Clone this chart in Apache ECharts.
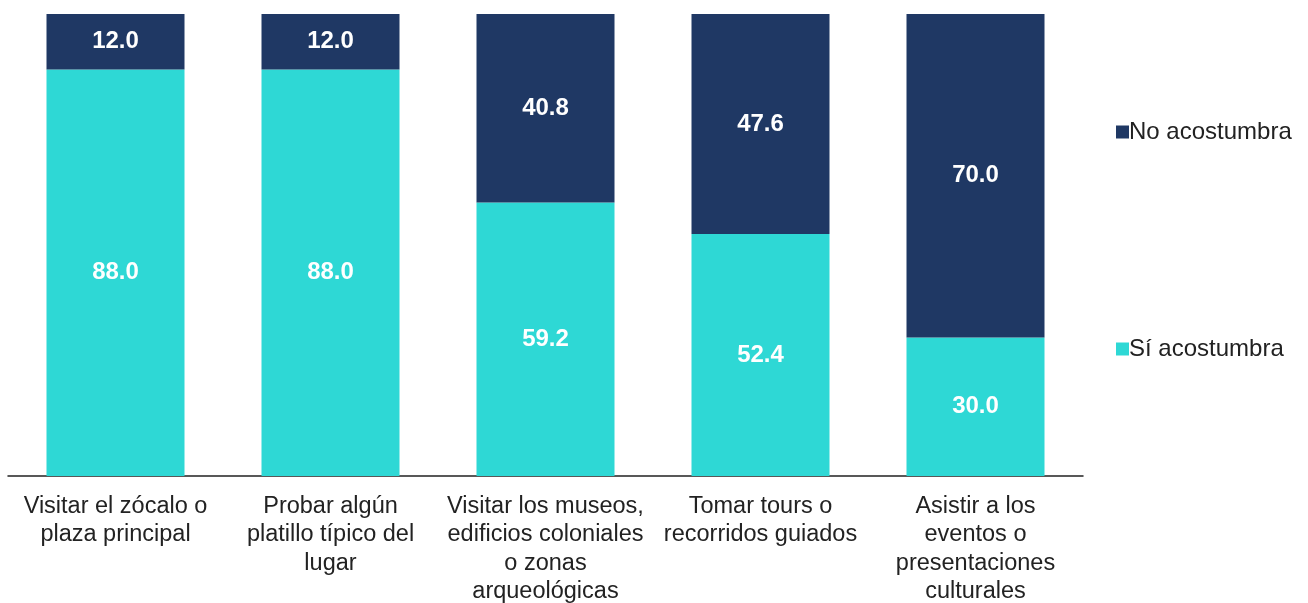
<!DOCTYPE html>
<html>
<head>
<meta charset="utf-8">
<script src="https://cdn.jsdelivr.net/npm/echarts@6/dist/echarts.min.js"></script>
</head>
<body style="margin:0;background:#fff">
<div id="chart" style="width:1308px;height:603px;"></div>
<script>
// categorias y porcentajes
var categorias = [
  'Visitar el zócalo o\nplaza principal',
  'Probar algún\nplatillo típico del\nlugar',
  'Visitar los museos,\nedificios coloniales\no zonas\narqueológicas',
  'Tomar tours o\nrecorridos guiados',
  'Asistir a los\neventos o\npresentaciones\nculturales'
];
var siAcostumbra = [88.0, 88.0, 59.2, 52.4, 30.0];
var noAcostumbra = [12.0, 12.0, 40.8, 47.6, 70.0];

var fuente = '"Liberation Sans", Arial, sans-serif';
var etiqueta = {
  show: true,
  position: 'inside',
  color: '#fff',
  fontWeight: 'bold',
  fontSize: 24,
  fontFamily: fuente,
  formatter: function (p) { return p.value.toFixed(1); }
};

var chart = echarts.init(document.getElementById('chart'));
chart.setOption({
  animation: false,
  grid: { left: 8, right: 225, top: 14, bottom: 127, outerBoundsMode: 'none', containLabel: false },
  legend: {
    orient: 'vertical',
    left: 1111,
    top: 114,
    itemWidth: 13,
    itemHeight: 13,
    itemGap: 191,
    icon: 'rect',
    data: ['No acostumbra', 'Sí acostumbra'],
    textStyle: { fontSize: 24, color: '#222', fontFamily: fuente, lineHeight: 26, padding: [0, 0, 0, -5] }
  },
  xAxis: {
    type: 'category',
    data: categorias,
    axisLine: { lineStyle: { color: '#222', width: 1.5 } },
    axisTick: { show: false },
    axisLabel: {
      interval: 0,
      margin: 16,
      color: '#222',
      fontSize: 23.5,
      lineHeight: 28.5,
      fontFamily: fuente
    }
  },
  yAxis: {
    type: 'value',
    min: 0,
    max: 100,
    show: false
  },
  series: [
    {
      name: 'Sí acostumbra',
      type: 'bar',
      stack: 'total',
      barWidth: 138,
      itemStyle: { color: '#2ED8D5' },
      label: etiqueta,
      data: siAcostumbra
    },
    {
      name: 'No acostumbra',
      type: 'bar',
      stack: 'total',
      barWidth: 138,
      itemStyle: { color: '#1F3864' },
      label: etiqueta,
      data: noAcostumbra
    }
  ]
});
</script>
</body>
</html>
